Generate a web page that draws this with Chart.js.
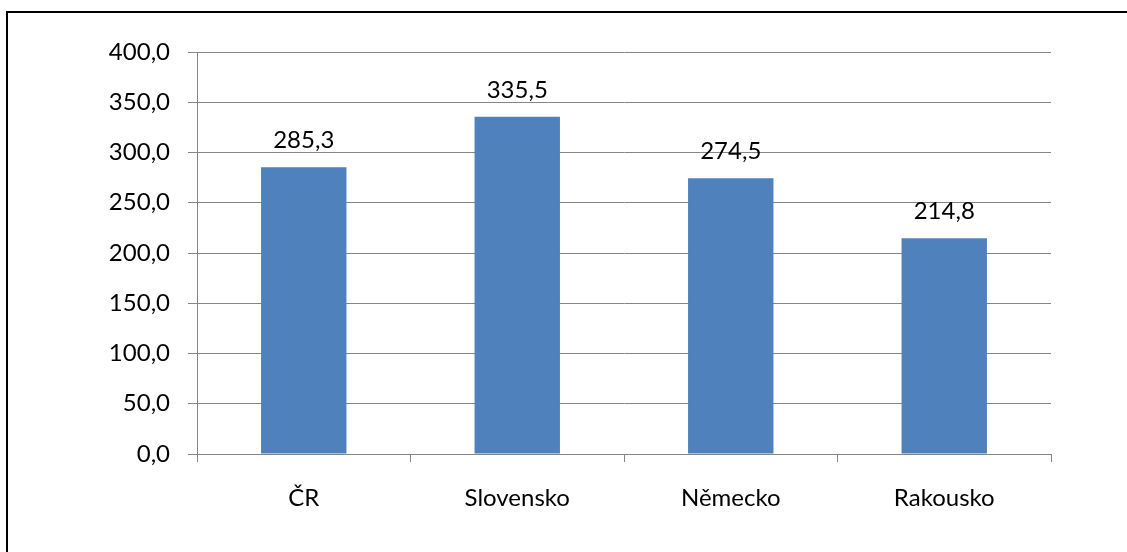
<!DOCTYPE html>
<html>
<head>
<meta charset="utf-8">
<script src="https://cdn.jsdelivr.net/npm/chart.js@4"></script>
<style>
  html, body { margin: 0; padding: 0; background: #fff; overflow: hidden; }
  #frame { position: absolute; left: 6px; top: 11px; width: 1300px; height: 700px; border: 2px solid #000; }
  #chart { position: absolute; left: 0; top: 0; }
</style>
</head>
<body>
<div id="frame"></div>
<canvas id="chart" width="1127" height="552"></canvas>
<script>
const countries = ['ČR', 'Slovensko', 'Německo', 'Rakousko'];
const values = [285.3, 335.5, 274.5, 214.8];
const yTicks = [0, 50, 100, 150, 200, 250, 300, 350, 400];

const fontFamily = 'Lato, "Open Sans", sans-serif';
const fmt = v => v.toFixed(1).replace('.', ',');

// popisky hodnot nad sloupci
const valueLabels = {
    id: 'valueLabels',
    afterDatasetsDraw(chart) {
        const ctx = chart.ctx;
        const meta = chart.getDatasetMeta(0);
        ctx.save();
        ctx.font = '24px ' + fontFamily;
        ctx.fillStyle = '#000';
        ctx.textAlign = 'center';
        ctx.textBaseline = 'middle';
        meta.data.forEach((bar, i) => {
            ctx.fillText(fmt(values[i]), bar.x, bar.y - 27);
        });
        ctx.restore();
    }
};

new Chart(document.getElementById('chart').getContext('2d'), {
    type: 'bar',
    data: {
        labels: countries,
        datasets: [{
            data: values,
            backgroundColor: '#4F81BD',
            borderWidth: 0,
            barPercentage: 0.4,
            categoryPercentage: 1
        }]
    },
    options: {
        responsive: false,
        animation: false,
        layout: { padding: { top: 52, right: 76, left: 0, bottom: 0 } },
        plugins: { legend: { display: false }, tooltip: { enabled: false } },
        scales: {
            x: {
                afterFit: s => { s.height = 98; },
                grid: { offset: true, drawOnChartArea: false, drawTicks: true, tickLength: 8, color: '#868686' },
                border: { color: '#868686', width: 1 },
                ticks: { color: '#000', padding: 22, font: { family: fontFamily, size: 24 } }
            },
            y: {
                min: 0, max: 400,
                afterFit: s => { s.width = 197; },
                afterBuildTicks: s => { s.ticks = yTicks.map(v => ({ value: v })); },
                grid: { color: '#868686', tickLength: 9 },
                border: { color: '#868686', width: 1 },
                ticks: { color: '#000', padding: 18, font: { family: fontFamily, size: 24 }, callback: v => fmt(v) }
            }
        }
    },
    plugins: [valueLabels]
});
</script>
</body>
</html>
